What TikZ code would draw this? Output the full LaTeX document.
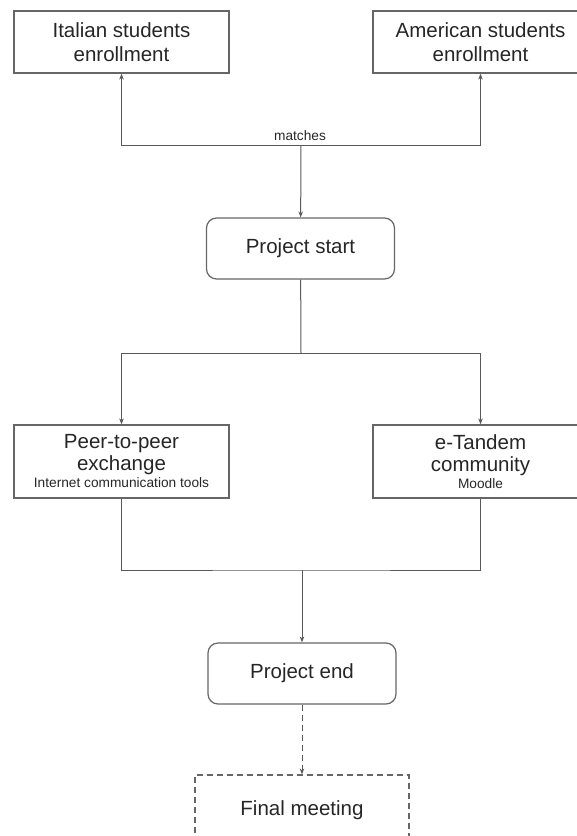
\documentclass[tikz,border=0pt]{standalone}
\usepackage{fontspec}
\setmainfont{Liberation Sans}
\usetikzlibrary{arrows.meta}
\begin{document}
\begin{tikzpicture}[x=1pt,y=-1pt,>={Stealth[length=6pt,width=4.5pt]},
  box/.style={draw=black!60,line width=1.2pt,text=black!85,align=center,
    minimum width=215pt,font=\fontsize{20.5}{24}\selectfont},
  phase/.style={box,rounded corners=10pt,minimum width=188pt,minimum height=61pt},
  note/.style={text=black!85,font=\fontsize{13.7}{16}\selectfont},
  link/.style={draw=black!65,line width=1pt},
  dashline/.style={dash pattern=on 6pt off 4pt}]
\useasboundingbox (0,0) rectangle (577,836);

\node[box,minimum height=62pt] (italian) at (121.5,42) {Italian students\\enrollment};
\node[box,minimum height=62pt] (american) at (480.5,42) {American students\\enrollment};
\node[phase] (start) at (300.5,248.5) {Project start};
\node[box,minimum height=73pt] (peer) at (121.5,461.5)
  {Peer-to-peer\\[-2pt]exchange\\[-7pt]\fontsize{13.7}{16}\selectfont Internet communication tools};
\node[box,minimum height=73pt] (tandem) at (480.5,461.5)
  {e-Tandem\\[-2pt]community\\[-7pt]\fontsize{13.7}{16}\selectfont Moodle};
\node[phase] (end) at (302,673.5) {Project end};
\node[box,dashline,minimum width=214pt,minimum height=70pt] (final) at (302,810) {Final meeting};

\coordinate (top) at (301,145);
\coordinate (fork) at (301,353);
\coordinate (join) at (302,570);
\node[note] (matches) at (300,136) {matches};

\draw[link,->] (top) -- (start);
\draw[link,->] (top) -| (italian);
\draw[link,->] (top) -| (american);

\draw[link] (start) -- (fork);
\draw[link,->] (fork) -| (peer);
\draw[link,->] (fork) -| (tandem);

\draw[link] (peer) |- (join) -| (tandem);
\draw[link,->] (join) -- (end);
\draw[link,dashline,->] (end) -- (final);
\end{tikzpicture}
\end{document}
